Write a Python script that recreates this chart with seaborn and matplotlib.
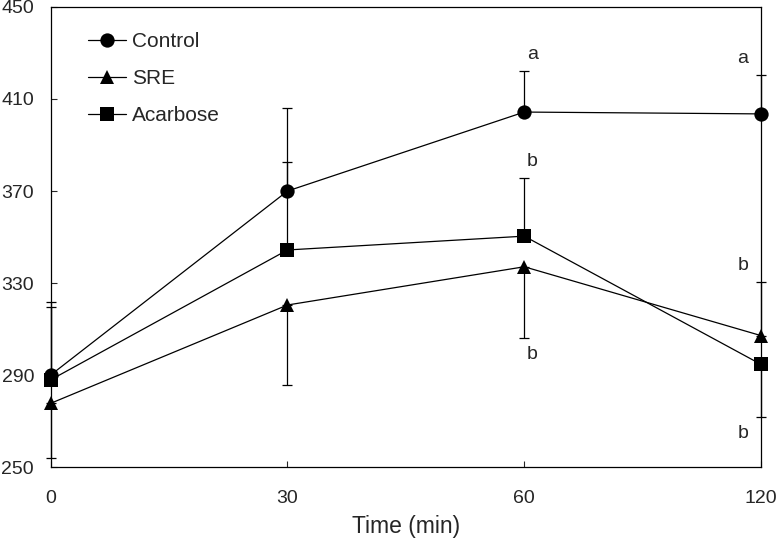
import numpy as np
import pandas as pd
import matplotlib
matplotlib.use("Agg")
import matplotlib.pyplot as plt
import seaborn as sns

times = ["0", "30", "60", "120"]
groups = ["Control", "SRE", "Acarbose"]

control = [290.1, 370.0, 404.3, 403.5]
sre = [277.8, 320.5, 337.1, 307.2]
acarbose = [288.0, 344.4, 350.4, 294.7]

# one-sided error bars
control_up = [31.5, 35.9, 17.8, 16.8]
control_down = [0, 0, 0, 0]
sre_up = [0, 0, 0, 23.4]
sre_down = [23.6, 34.8, 30.8, 0]
acarbose_up = [31.5, 38.3, 25.1, 0]
acarbose_down = [0, 0, 0, 22.7]

control_sig = ["", "", "a", "a"]
sre_sig = ["", "", "b", "b"]
acarbose_sig = ["", "", "b", "b"]

sns.set_theme(style="ticks")
plt.rcParams["font.family"] = ["Liberation Sans", "DejaVu Sans"]

values = {"Control": control, "SRE": sre, "Acarbose": acarbose}
ups = {"Control": control_up, "SRE": sre_up, "Acarbose": acarbose_up}
downs = {"Control": control_down, "SRE": sre_down, "Acarbose": acarbose_down}
sigs = {"Control": control_sig, "SRE": sre_sig, "Acarbose": acarbose_sig}
markers = {"Control": "o", "SRE": "^", "Acarbose": "s"}

rows = []
for g in groups:
    for i, t in enumerate(times):
        rows.append({"pos": i, "time": t, "group": g, "glucose": values[g][i]})
df = pd.DataFrame(rows)

fig = plt.figure(figsize=(7.78, 5.43), dpi=100)
ax = fig.add_axes([0.0652, 0.1394, 0.913, 0.848])

# error bars first so the markers sit on top
for g in groups:
    ax.errorbar(range(len(times)), values[g], yerr=[downs[g], ups[g]],
                fmt="none", ecolor="black", elinewidth=0.9, capsize=3.4,
                capthick=0.9, zorder=1, clip_on=False)

sns.lineplot(data=df, x="pos", y="glucose", hue="group", style="group",
             markers=markers, dashes=False, palette=["black"] * 3,
             markersize=10.3, linewidth=0.9, markeredgewidth=0,
             ax=ax, zorder=3, clip_on=False)

# significance letters beyond the error bar tips
for g in groups:
    for i in range(len(times)):
        letter = sigs[g][i]
        if not letter:
            continue
        dx = 6 if i < len(times) - 1 else -13
        if ups[g][i] > 0:
            y = values[g][i] + ups[g][i]
            dy = 12
        else:
            y = values[g][i] - downs[g][i]
            dy = -12
        ax.annotate(letter, xy=(i, y), xytext=(dx, dy), textcoords="offset points",
                    ha="center", va="center", fontsize=14)

ax.set_xlim(0, 3)
ax.set_ylim(250, 450)
ax.set_xticks(range(len(times)))
ax.set_xticklabels(times)
ax.set_yticks(np.arange(250, 451, 40))
ax.tick_params(axis="x", direction="in", length=4, width=0.8, labelsize=14, pad=16)
ax.tick_params(axis="y", direction="in", length=4, width=0.8, labelsize=14, pad=12)
ax.set_xlabel("Time (min)", fontsize=16.5, labelpad=6)
ax.set_ylabel("")
for s in ax.spines.values():
    s.set_linewidth(0.9)
    s.set_color("black")

handles, labels = ax.get_legend_handles_labels()
ax.legend(handles=handles, labels=labels, loc="upper left", frameon=False,
          fontsize=15, handlelength=1.83, labelspacing=0.87,
          bbox_to_anchor=(0.0525, 0.945), borderaxespad=0, borderpad=0,
          handletextpad=0.3)

fig.savefig("out.png", dpi=100)
